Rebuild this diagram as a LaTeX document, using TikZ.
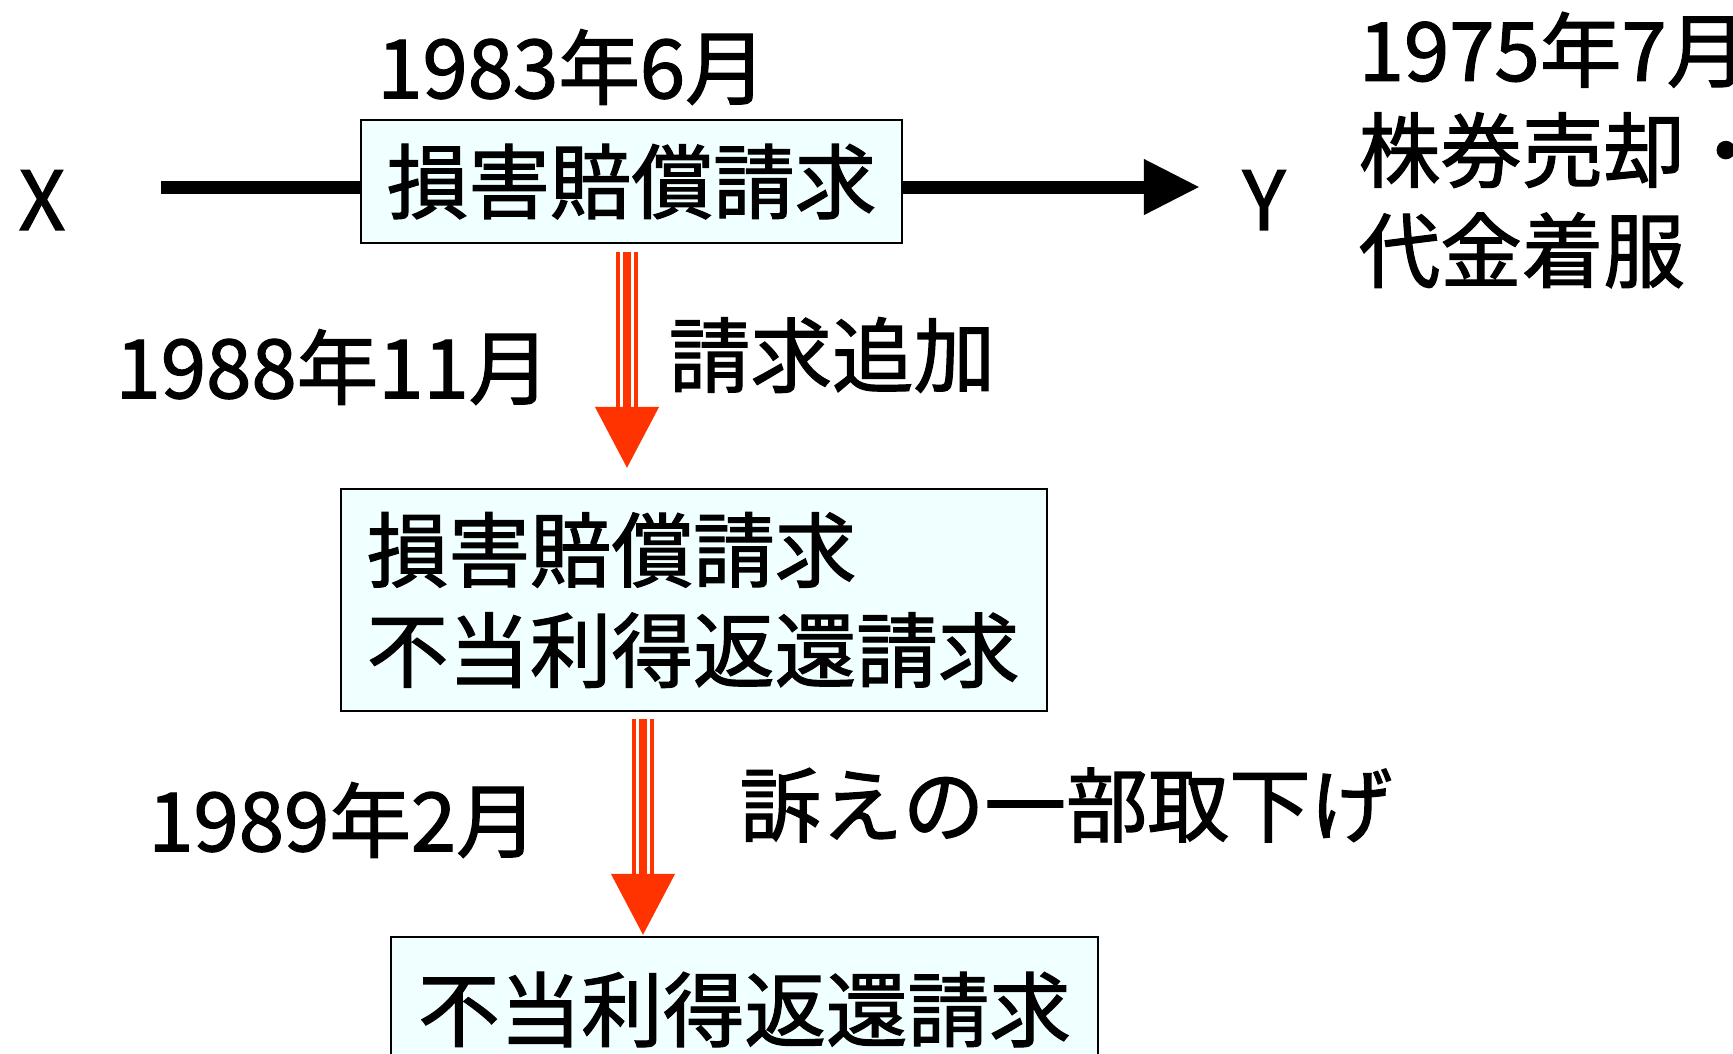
\documentclass[tikz,border=0pt]{standalone}
\usepackage{fontspec}
\setmainfont{Noto Sans CJK JP}[FakeBold=1.5]
\usepackage{tikz}
\usetikzlibrary{arrows.meta, positioning}
\definecolor{boxfill}{HTML}{F0FFFF}
\definecolor{arrowred}{HTML}{FF3300}

\begin{document}
\begin{tikzpicture}[x=0.01cm, y=-0.01cm,
    every node/.style={font=\fontsize{23.2}{28.5}\selectfont, inner sep=0pt},
    claim/.style={draw, fill=boxfill, line width=0.02cm, inner xsep=0.26cm},
    stripe/.style={draw=arrowred, line width=0.04cm}]
    \useasboundingbox (0,0) rectangle (1733,1053);

    % Parties
    \node (x) at (42,200) {X};
    \node (y) at (1264,200) {Y};
    \node[align=left, anchor=west] (sale) at (1358,150) {1975年7月\\株券売却・\\代金着服};

    % Claim boxes
    \node[claim, minimum width=5.41cm, minimum height=1.23cm] (damage) at (631.5,181.5) {損害賠償請求};
    \node[claim, text width=6.54cm, align=left, minimum height=2.22cm] (both) at (694,600) {損害賠償請求\\不当利得返還請求};
    \node[claim, minimum width=7.07cm, minimum height=1.45cm] (unjust) at (744.5,1009.5) {不当利得返還請求};

    % Dates and steps
    \node (date1) at (572,67) {1983年6月};
    \node (date2) at (333,367) {1988年11月};
    \node (add) at (832,355) {請求追加};
    \node (date3) at (343,820) {1989年2月};
    \node (withdraw) at (1066,805) {訴えの一部取下げ};

    % Main line from X to Y
    \coordinate (xend) at (161,187);
    \coordinate (yend) at (1200,187);
    \draw[line width=0.13cm] (xend) -- (xend -| damage.west);
    \draw[line width=0.13cm, -{Triangle[length=0.56cm, width=0.52cm]}] (damage.east |- yend) -- (yend);

    % Red striped arrows
    \coordinate (a1s) at (627,252);
    \coordinate (a1e) at (627,468);
    \coordinate (a2s) at (643,719);
    \coordinate (a2e) at (643,935);
    \foreach \s/\e in {a1s/a1e, a2s/a2e} {
        \foreach \dx in {-8.7, 8.7}
            \draw[stripe] ([xshift=\dx*0.01cm]\s) -- ([xshift=\dx*0.01cm, yshift=0.58cm]\e);
        \draw[stripe, line width=0.075cm, -{Triangle[length=0.61cm, width=0.62cm]}] (\s) -- (\e);
    }
\end{tikzpicture}
\end{document}
